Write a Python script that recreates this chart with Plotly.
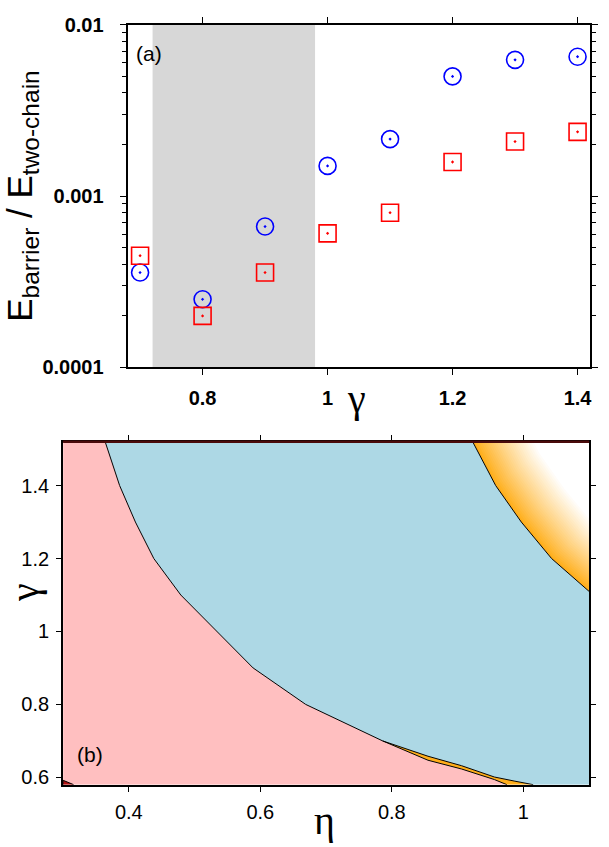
import plotly.graph_objects as go

# ---------------- Panel (a) data ----------------
gamma_a = [0.7, 0.8, 0.9, 1.0, 1.1, 1.2, 1.3, 1.4]
circle_vals = [3.58e-4, 2.5e-4, 6.64e-4, 1.50e-3, 2.15e-3, 4.99e-3, 6.23e-3, 6.5e-3]
square_vals = [4.49e-4, 2.0e-4, 3.58e-4, 6.06e-4, 8.0e-4, 1.58e-3, 2.08e-3, 2.37e-3]
shade_range = [0.72, 0.98]
ytick_vals = [0.0001, 0.001, 0.01]
ytick_text = ["0.0001", "0.001", "0.01"]

# ---------------- Panel (b) data ----------------
eta_range = [0.3, 1.1]
gam_range = [0.58, 1.52]
# pink / blue boundary
eta_pb = [0.364, 0.386, 0.410, 0.438, 0.479, 0.534, 0.589, 0.669, 0.786]
gam_pb = [1.52, 1.40, 1.30, 1.20, 1.10, 1.00, 0.90, 0.80, 0.70]
# pink / orange edge (lower edge of the sliver)
eta_po = [0.786, 0.855, 0.906, 0.956, 0.975]
gam_po = [0.70, 0.647, 0.623, 0.594, 0.58]
# blue / orange edge (upper edge of the sliver)
eta_bo = [0.786, 0.855, 0.906, 0.956, 0.986, 1.015]
gam_bo = [0.70, 0.658, 0.632, 0.601, 0.590, 0.58]
# blue / orange boundary (upper right)
eta_ur = [0.923, 0.958, 0.997, 1.043, 1.100]
gam_ur = [1.52, 1.40, 1.30, 1.20, 1.11]
# tiny dark corner region
eta_corner = [0.3, 0.3, 0.316]
gam_corner = [0.58, 0.592, 0.58]

PINK = "#FFBFC0"
BLUE = "#ADD8E5"
ORANGE = (255, 174, 26)
FONT = "Liberation Sans"
GREEK = "Liberation Serif"
W, H = 609, 847

fig = go.Figure()

# ---- panel (a) ----
fig.add_trace(go.Scatter(
    x=gamma_a, y=circle_vals, mode="markers", xaxis="x", yaxis="y",
    marker=dict(symbol="circle-open-dot", size=17, color="#0000FF",
                line=dict(width=1.6, color="#0000FF")),
    showlegend=False))
fig.add_trace(go.Scatter(
    x=gamma_a, y=square_vals, mode="markers", xaxis="x", yaxis="y",
    marker=dict(symbol="square-open-dot", size=17, color="#FF0000",
                line=dict(width=1.6, color="#FF0000")),
    showlegend=False))

fig.add_shape(type="rect", xref="x", yref="y domain", x0=shade_range[0], x1=shade_range[1],
              y0=0, y1=1, fillcolor="#D7D7D7", line=dict(width=0), layer="below")

# ---- panel (b) ----
x0, x1 = eta_range
y0, y1 = gam_range

# blue region
bx = eta_pb + eta_bo[1:] + [x1, x1] + eta_ur[::-1]
by = gam_pb + gam_bo[1:] + [y0, gam_ur[-1]] + gam_ur[::-1]
fig.add_trace(go.Scatter(x=bx, y=by, fill="toself", fillcolor=BLUE, mode="none",
                         xaxis="x2", yaxis="y2", showlegend=False, hoverinfo="skip"))
# pink region
px = [x0] + eta_pb + eta_po[1:] + [x0]
py = [y1] + gam_pb + gam_po[1:] + [y0]
fig.add_trace(go.Scatter(x=px, y=py, fill="toself", fillcolor=PINK, mode="none",
                         xaxis="x2", yaxis="y2", showlegend=False, hoverinfo="skip"))
# orange sliver
sx = eta_bo + eta_po[::-1]
sy = gam_bo + gam_po[::-1]
fig.add_trace(go.Scatter(x=sx, y=sy, fill="toself", fillcolor="rgb(255,174,26)", mode="none",
                         xaxis="x2", yaxis="y2", showlegend=False, hoverinfo="skip"))

# upper-right orange region fading to white (stacked shifted bands)
def extend(xs, ys):
    sx0 = xs[0] + (xs[0] - xs[1]) * 1.5
    sy0 = ys[0] + (ys[0] - ys[1]) * 1.5
    ex = xs[-1] + (xs[-1] - xs[-2]) * 3
    ey = ys[-1] + (ys[-1] - ys[-2]) * 3
    return [sx0] + xs + [ex], [sy0] + ys + [ey]

ext_x, ext_y = extend(eta_ur, gam_ur)
N = 28
shift = (0.066, 0.09)
for k in range(N + 1):
    t = k / N
    cx = [v + shift[0] * t for v in ext_x]
    cy = [v + shift[1] * t for v in ext_y]
    polyx = cx + [cx[-1] + 2, cx[-1] + 2, cx[0]]
    polyy = cy + [cy[-1], cy[0] + 2, cy[0] + 2]
    f = t ** 0.9
    col = "rgb(%d,%d,%d)" % tuple(round(c + (255 - c) * f) for c in ORANGE)
    fig.add_trace(go.Scatter(x=polyx, y=polyy, fill="toself", fillcolor=col, mode="none",
                             xaxis="x2", yaxis="y2", showlegend=False, hoverinfo="skip"))

# dark corner
fig.add_trace(go.Scatter(x=eta_corner, y=gam_corner, fill="toself", fillcolor="#B01010",
                         mode="lines", line=dict(color="black", width=1),
                         xaxis="x2", yaxis="y2", showlegend=False, hoverinfo="skip"))

# boundary lines
for xs, ys in [(eta_pb, gam_pb), (eta_po, gam_po), (eta_bo, gam_bo), (eta_ur, gam_ur)]:
    fig.add_trace(go.Scatter(x=xs, y=ys, mode="lines", line=dict(color="black", width=1),
                             xaxis="x2", yaxis="y2", showlegend=False, hoverinfo="skip"))

# top border of panel (b) in dark red
fig.add_shape(type="line", xref="x2 domain", yref="y2 domain", x0=0, x1=1, y0=1, y1=1,
              line=dict(color="#4A0A0A", width=2.5), layer="above")

# panel labels
fig.add_annotation(text="(a)", xref="paper", yref="paper", x=149 / W, y=1 - 44 / H,
                   showarrow=False, xanchor="center", yanchor="middle",
                   font=dict(family=FONT, size=21, color="black"))
fig.add_annotation(text="(b)", xref="paper", yref="paper", x=90 / W, y=1 - 763 / H,
                   showarrow=False, xanchor="center", yanchor="middle",
                   font=dict(family=FONT, size=21, color="black"))

# axis titles placed as text
fig.add_annotation(text="γ", xref="paper", yref="paper", x=358 / W, y=1 - 398 / H,
                   showarrow=False, xanchor="center", yanchor="middle",
                   font=dict(family=GREEK, size=40, color="black"))
fig.add_annotation(text="γ", xref="paper", yref="paper", x=0, y=1 - 597 / H,
                   showarrow=False, xanchor="left", yanchor="middle", textangle=-90,
                   font=dict(family=GREEK, size=40, color="black"))
fig.add_annotation(text="η", xref="paper", yref="paper", x=326 / W, y=0, yshift=-9,
                   showarrow=False, xanchor="center", yanchor="bottom",
                   font=dict(family=GREEK, size=40, color="black"))

axis_common = dict(showline=True, linecolor="black", linewidth=2, mirror="ticks",
                   ticks="outside", tickcolor="black", tickwidth=1.2, showgrid=False,
                   zeroline=False)

fig.update_layout(
    width=W, height=H,
    margin=dict(l=0, r=0, t=0, b=0),
    paper_bgcolor="white", plot_bgcolor="white",
    font=dict(family=FONT, color="black"),
    xaxis=dict(domain=[128 / W, 592 / W], anchor="y", range=[0.68, 1.42],
               tick0=0.8, dtick=0.2, ticklen=6, ticklabelstandoff=6,
               tickfont=dict(family=FONT, size=20, weight="bold"),
               **axis_common),
    yaxis=dict(domain=[1 - 366 / H, 1 - 14 / H], anchor="x", type="log",
               range=[-4, -2], tickvals=ytick_vals, ticktext=ytick_text, ticklen=6,
               ticklabelstandoff=12,
               minor=dict(ticks="outside", dtick="D1", ticklen=4, tickcolor="black",
                          tickwidth=1.2, showgrid=False),
               tickfont=dict(family=FONT, size=20, weight="bold"),
               title=dict(text="E<sub>barrier</sub> / E<sub>two-chain</sub>",
                          font=dict(family=FONT, size=35), standoff=2),
               **axis_common),
    xaxis2=dict(domain=[63.3 / W, 591 / W], anchor="y2", range=eta_range,
                tick0=0.4, dtick=0.2, ticklen=5, ticklabelstandoff=3,
                tickfont=dict(family=FONT, size=20),
                **axis_common),
    yaxis2=dict(domain=[1 - 794.3 / H, 1 - 442.3 / H], anchor="x2", range=gam_range,
                tick0=0.6, dtick=0.2, ticklen=5, ticklabelstandoff=3,
                tickfont=dict(family=FONT, size=20),
                **axis_common),
)

fig.write_html("out.html", config={"displayModeBar": False},
               post_script="document.body.style.margin='0px';")
